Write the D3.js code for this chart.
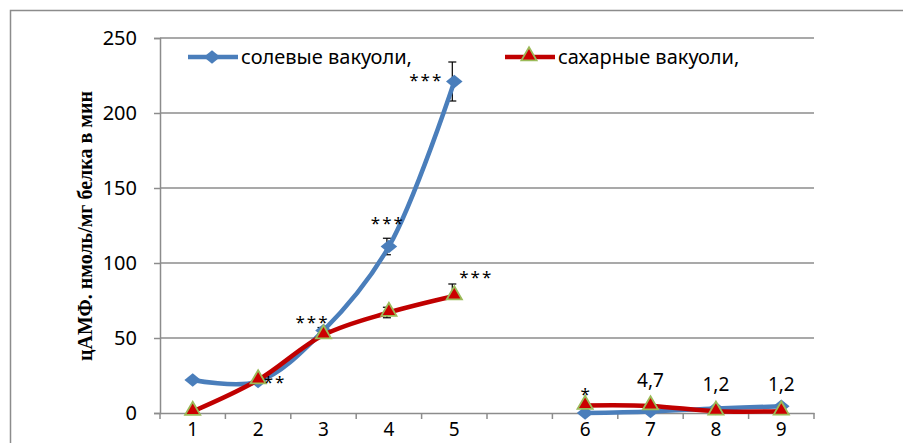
<!DOCTYPE html>
<html>
<head>
<meta charset="utf-8">
<script src="https://cdn.jsdelivr.net/npm/d3@7"></script>
<style>
  html, body { margin: 0; padding: 0; background: #fff; }
  svg { display: block; }
</style>
</head>
<body>
<svg id="chart" width="903" height="443"></svg>
<script>
// Categories along the x axis (an empty slot separates the two groups)
const categories = ["1", "2", "3", "4", "5", "", "6", "7", "8", "9"];

// cAMP levels, nmol/mg protein per min
const saltValues    = [22, 21, 55, 111, 221, null, 0, 1, 3, 4.5];
const saltErrPlus   = [0, 0, 2, 5.5, 13, null, 0, 0, 0, 0];
const saltErrMinus  = [0, 0, 2, 5.5, 13, null, 0, 0, 0, 0];
const sugarValues   = [1, 22, 52, 67, 78, null, 5, 4.7, 1.2, 1.2];
const sugarErrPlus  = [0, 0, 0, 3.5, 8, null, 0, 0, 0, 0];
const sugarErrMinus = [0, 0, 0, 3.5, 0, null, 0, 0, 0, 0];

// Significance marks and value labels
const saltMarks   = ["", "", "***", "***", "***", "", "", "", "", ""];
const sugarMarks  = ["", "**", "", "", "***", "", "*", "", "", ""];
const sugarLabels = ["", "", "", "", "", "", "", "4,7", "1,2", "1,2"];

const yTicks = [0, 50, 100, 150, 200, 250];
const seriesNames = ["солевые вакуоли,", "сахарные вакуоли,"];

const svg = d3.select("#chart");
const plot = { left: 160, right: 814, top: 38, bottom: 413 };

const blue = "#4a7ebb";
const red = "#c00000";
const triFill = "#cc0000";
const triStroke = "#9bbb59";
const gridColor = "#8c8c8c";
const sansFont = "'Noto Sans', 'Open Sans', sans-serif";

// Outer chart frame
svg.append("rect")
  .attr("x", 10.5).attr("y", 10.5)
  .attr("width", 1000).attr("height", 1000)
  .attr("fill", "none").attr("stroke", "#8c8c8c").attr("stroke-width", 1.5);

const x = d3.scaleBand()
  .domain(d3.range(categories.length))
  .range([plot.left, plot.right])
  .paddingInner(0).paddingOuter(0);
const cx = i => x(i) + x.bandwidth() / 2;

const y = d3.scaleLinear().domain([0, 250]).range([plot.bottom, plot.top]);

// Horizontal gridlines
svg.append("g")
  .selectAll("line")
  .data(yTicks.filter(t => t > 0))
  .join("line")
  .attr("x1", plot.left).attr("x2", plot.right)
  .attr("y1", d => y(d)).attr("y2", d => y(d))
  .attr("stroke", gridColor).attr("stroke-width", 1.5);

// Y axis
const yAxis = svg.append("g")
  .attr("transform", `translate(${plot.left},0)`)
  .call(d3.axisLeft(y).tickValues(yTicks).tickSize(6).tickPadding(17));
yAxis.select(".domain").attr("stroke", gridColor).attr("stroke-width", 1.5);
yAxis.selectAll(".tick line").attr("stroke", gridColor).attr("stroke-width", 1.5);
yAxis.selectAll(".tick text")
  .attr("font-family", sansFont).attr("font-size", 20).attr("fill", "#000");

// X axis: ticks sit on category boundaries
const xAxis = svg.append("g")
  .attr("transform", `translate(0,${plot.bottom})`)
  .call(d3.axisBottom(x).tickSize(0).tickFormat(i => categories[i]).tickPadding(10));
xAxis.select(".domain").attr("stroke", gridColor).attr("stroke-width", 1.5);
xAxis.selectAll(".tick text")
  .attr("font-family", sansFont).attr("font-size", 19).attr("fill", "#000");
svg.append("g")
  .selectAll("line")
  .data(d3.range(categories.length + 1))
  .join("line")
  .attr("x1", i => plot.left + i * x.bandwidth())
  .attr("x2", i => plot.left + i * x.bandwidth())
  .attr("y1", plot.bottom).attr("y2", plot.bottom + 6)
  .attr("stroke", gridColor).attr("stroke-width", 1.5);

// Y axis title
svg.append("text")
  .attr("transform", `translate(92,226) rotate(-90)`)
  .attr("text-anchor", "middle")
  .attr("font-family", "'Liberation Serif', 'Times New Roman', serif")
  .attr("font-weight", "bold").attr("font-size", 20)
  .text("цАМФ. нмоль/мг белка в мин");

const line = d3.line()
  .defined(d => d.v !== null)
  .x(d => cx(d.i))
  .y(d => y(d.v))
  .curve(d3.curveCatmullRom.alpha(0.5));

const toPoints = vals => vals.map((v, i) => ({ i, v }));
const saltPts = toPoints(saltValues);
const sugarPts = toPoints(sugarValues);

const diamond = d3.symbol().type(d3.symbolDiamond2).size(175);
const triangle = d3.symbol().type(d3.symbolTriangle2).size(165);

function drawErrors(vals, plus, minus) {
  const g = svg.append("g").attr("stroke", "#000").attr("stroke-width", 1.2);
  vals.forEach((v, i) => {
    if (v === null || (!plus[i] && !minus[i])) return;
    const hi = v + plus[i], lo = v - minus[i];
    const xc = cx(i) - 2;
    g.append("line").attr("x1", xc).attr("x2", xc)
      .attr("y1", y(hi)).attr("y2", y(lo));
    [hi, lo].filter(t => t !== v).forEach(t => g.append("line")
      .attr("x1", xc - 4).attr("x2", xc + 4)
      .attr("y1", y(t)).attr("y2", y(t)));
  });
}

// Salt vacuoles
drawErrors(saltValues, saltErrPlus, saltErrMinus);
svg.append("path").datum(saltPts).attr("d", line)
  .attr("fill", "none").attr("stroke", blue).attr("stroke-width", 4.5)
  .attr("stroke-linejoin", "round");
svg.append("g").selectAll("path")
  .data(saltPts.filter(d => d.v !== null))
  .join("path")
  .attr("d", diamond)
  .attr("transform", d => `translate(${cx(d.i)},${y(d.v)}) scale(1,0.82)`)
  .attr("fill", blue);

// Sugar vacuoles
drawErrors(sugarValues, sugarErrPlus, sugarErrMinus);
svg.append("path").datum(sugarPts).attr("d", line)
  .attr("fill", "none").attr("stroke", red).attr("stroke-width", 4.5)
  .attr("stroke-linejoin", "round");
svg.append("g").selectAll("path")
  .data(sugarPts.filter(d => d.v !== null))
  .join("path")
  .attr("d", triangle)
  .attr("transform", d => `translate(${cx(d.i)},${y(d.v) - 1})`)
  .attr("fill", triFill).attr("stroke", triStroke).attr("stroke-width", 1.8);

// Significance marks
function drawMarks(marks, vals, dx, dy) {
  svg.append("g").selectAll("text")
    .data(marks.map((m, i) => ({ m, i })).filter(d => d.m))
    .join("text")
    .attr("x", d => cx(d.i) + dx[d.i])
    .attr("y", d => y(vals[d.i]) + dy[d.i])
    .attr("text-anchor", "middle")
    .attr("font-family", sansFont).attr("font-size", 17)
    .attr("letter-spacing", 2)
    .text(d => d.m);
}
drawMarks(saltMarks, saltValues,
  [0, 0, -11, -1, -28, 0, 0, 0, 0, 0],
  [0, 0, -3, -18, 4, 0, 0, 0, 0, 0]);
drawMarks(sugarMarks, sugarValues,
  [0, 17, 0, 0, 22, 0, 1, 0, 0, 0],
  [0, 8, 0, 0, -13, 0, -6, 0, 0, 0]);

// Value labels
svg.append("g").selectAll("text")
  .data(sugarLabels.map((t, i) => ({ t, i })).filter(d => d.t))
  .join("text")
  .attr("x", d => cx(d.i))
  .attr("y", (d, k) => (k === 0 ? 387 : 391))
  .attr("text-anchor", "middle")
  .attr("font-family", sansFont).attr("font-size", 19)
  .text(d => d.t);

// Legend
const legend = [
  { name: seriesNames[0], color: blue, sym: diamond, x: 188, marker: "d" },
  { name: seriesNames[1], color: red, sym: triangle, x: 505, marker: "t" }
];
const lg = svg.append("g");
legend.forEach(l => {
  const ly = 57;
  lg.append("line").attr("x1", l.x).attr("x2", l.x + 50)
    .attr("y1", ly).attr("y2", ly)
    .attr("stroke", l.color).attr("stroke-width", 4.5);
  const m = lg.append("path").attr("d", l.sym)
    .attr("transform", l.marker === "t"
      ? `translate(${l.x + 24},${ly - 1})`
      : `translate(${l.x + 24},${ly}) scale(1,0.82)`)
    .attr("fill", l.marker === "t" ? triFill : blue);
  if (l.marker === "t") m.attr("stroke", triStroke).attr("stroke-width", 1.8);
  lg.append("text").attr("x", l.x + 53).attr("y", ly + 7)
    .attr("font-family", sansFont).attr("font-size", 20)
    .text(l.name);
});
</script>
</body>
</html>
